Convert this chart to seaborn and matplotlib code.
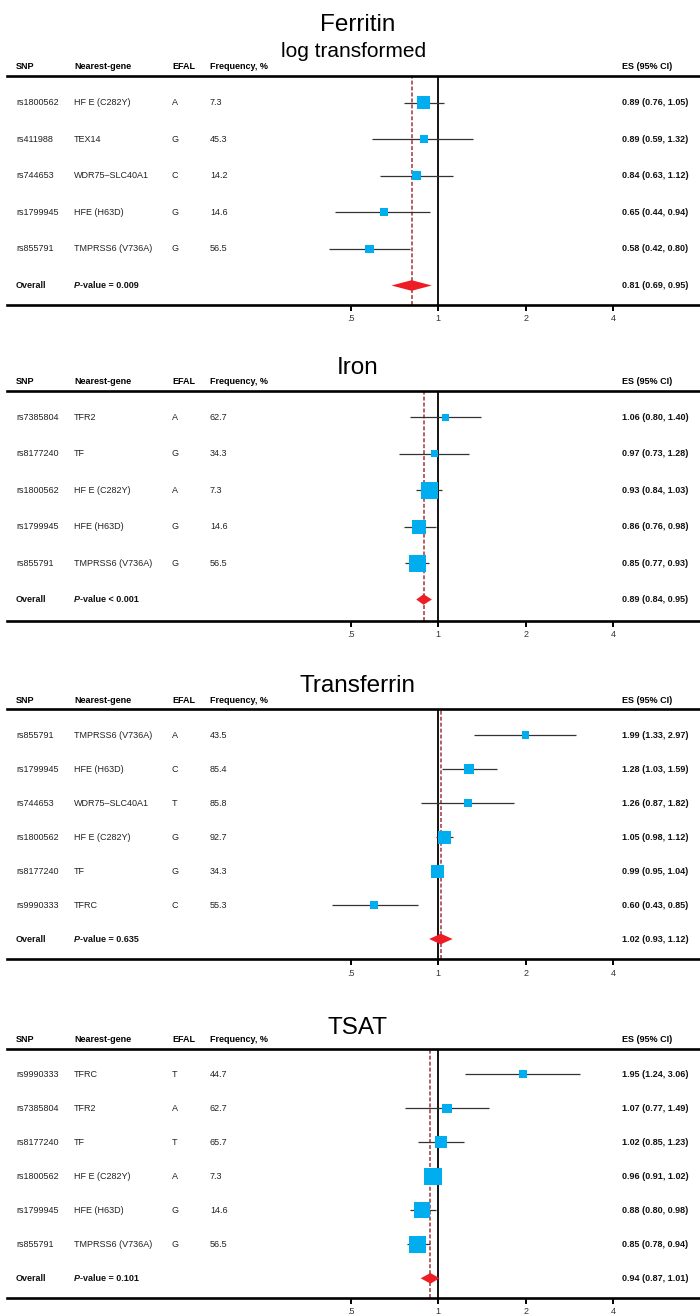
import numpy as np
import matplotlib
matplotlib.use("Agg")
import matplotlib.pyplot as plt
import seaborn as sns
from matplotlib.transforms import blended_transform_factory

# ---------------- data ----------------
ferritin_snp = ["rs1800562", "rs411988", "rs744653", "rs1799945", "rs855791"]
ferritin_gene = ["HF E (C282Y)", "TEX14", "WDR75\u2013SLC40A1", "HFE (H63D)", "TMPRSS6 (V736A)"]
ferritin_efal = ["A", "G", "C", "G", "G"]
ferritin_freq = ["7.3", "45.3", "14.2", "14.6", "56.5"]
ferritin_es = [0.89, 0.89, 0.84, 0.65, 0.58]
ferritin_lo = [0.76, 0.59, 0.63, 0.44, 0.42]
ferritin_hi = [1.05, 1.32, 1.12, 0.94, 0.80]
ferritin_weight = [13.0, 8.0, 9.5, 8.0, 8.5]
ferritin_overall = (0.81, 0.69, 0.95)
ferritin_p = "= 0.009"

iron_snp = ["rs7385804", "rs8177240", "rs1800562", "rs1799945", "rs855791"]
iron_gene = ["TFR2", "TF", "HF E (C282Y)", "HFE (H63D)", "TMPRSS6 (V736A)"]
iron_efal = ["A", "G", "A", "G", "G"]
iron_freq = ["62.7", "34.3", "7.3", "14.6", "56.5"]
iron_es = [1.06, 0.97, 0.93, 0.86, 0.85]
iron_lo = [0.80, 0.73, 0.84, 0.76, 0.77]
iron_hi = [1.40, 1.28, 1.03, 0.98, 0.93]
iron_weight = [7.0, 7.0, 17.0, 14.0, 17.0]
iron_overall = (0.89, 0.84, 0.95)
iron_p = "< 0.001"

transferrin_snp = ["rs855791", "rs1799945", "rs744653", "rs1800562", "rs8177240", "rs9990333"]
transferrin_gene = ["TMPRSS6 (V736A)", "HFE (H63D)", "WDR75\u2013SLC40A1", "HF E (C282Y)", "TF", "TFRC"]
transferrin_efal = ["A", "C", "T", "G", "G", "C"]
transferrin_freq = ["43.5", "85.4", "85.8", "92.7", "34.3", "55.3"]
transferrin_es = [1.99, 1.28, 1.26, 1.05, 0.99, 0.60]
transferrin_lo = [1.33, 1.03, 0.87, 0.98, 0.95, 0.43]
transferrin_hi = [2.97, 1.59, 1.82, 1.12, 1.04, 0.85]
transferrin_weight = [7.3, 10.0, 8.0, 13.0, 13.0, 8.0]
transferrin_overall = (1.02, 0.93, 1.12)
transferrin_p = "= 0.635"

tsat_snp = ["rs9990333", "rs7385804", "rs8177240", "rs1800562", "rs1799945", "rs855791"]
tsat_gene = ["TFRC", "TFR2", "TF", "HF E (C282Y)", "HFE (H63D)", "TMPRSS6 (V736A)"]
tsat_efal = ["T", "A", "T", "A", "G", "G"]
tsat_freq = ["44.7", "62.7", "65.7", "7.3", "14.6", "56.5"]
tsat_es = [1.95, 1.07, 1.02, 0.96, 0.88, 0.85]
tsat_lo = [1.24, 0.77, 0.85, 0.91, 0.80, 0.78]
tsat_hi = [3.06, 1.49, 1.23, 1.02, 0.98, 0.94]
tsat_weight = [7.7, 9.3, 12.3, 17.3, 15.7, 17.0]
tsat_overall = (0.94, 0.87, 1.01)
tsat_p = "= 0.101"

header_labels = ["SNP", "Nearest-gene", "EFAL", "Frequency, %"]
es_header = "ES (95% CI)"
tick_values = [0.5, 1, 2, 4]
tick_labels = [".5", "1", "2", "4"]

# ---------------- style ----------------
sns.set_theme(style="white")
plt.rcParams['font.family'] = ['Liberation Sans', 'DejaVu Sans']

W, H = 700, 1316
fig = plt.figure(figsize=(W / 100, H / 100), dpi=100)

X0_PX, X1_PX = 7, 700
ONE_PX, OCT_PX = 438.3, 87.6


def px2val(px):
    return 2 ** ((px - ONE_PX) / OCT_PX)


COL_X = [16, 74, 172, 210]
ES_X = 622
FS = 6.5
SQ = "#00AEEF"
DIA = "#EE1C25"
DASH = "#A0363C"
CI_C = "#333333"

panels = [
    dict(title="Ferritin", subtitle="log transformed", title_base=30.7, sub_base=56.7,
         top=75.5, bottom=304.5, row0=102.5, step=36.6,
         snp=ferritin_snp, gene=ferritin_gene, efal=ferritin_efal, freq=ferritin_freq,
         es=ferritin_es, lo=ferritin_lo, hi=ferritin_hi, w=ferritin_weight,
         ov=ferritin_overall, p=ferritin_p),
    dict(title="Iron", subtitle=None, title_base=374.0,
         top=390.5, bottom=621.0, row0=417.0, step=36.5,
         snp=iron_snp, gene=iron_gene, efal=iron_efal, freq=iron_freq,
         es=iron_es, lo=iron_lo, hi=iron_hi, w=iron_weight,
         ov=iron_overall, p=iron_p),
    dict(title="Transferrin", subtitle=None, title_base=691.7,
         top=709.3, bottom=959.3, row0=735.0, step=34.0,
         snp=transferrin_snp, gene=transferrin_gene, efal=transferrin_efal, freq=transferrin_freq,
         es=transferrin_es, lo=transferrin_lo, hi=transferrin_hi, w=transferrin_weight,
         ov=transferrin_overall, p=transferrin_p),
    dict(title="TSAT", subtitle=None, title_base=1034.0,
         top=1049.0, bottom=1297.5, row0=1074.3, step=34.0,
         snp=tsat_snp, gene=tsat_gene, efal=tsat_efal, freq=tsat_freq,
         es=tsat_es, lo=tsat_lo, hi=tsat_hi, w=tsat_weight,
         ov=tsat_overall, p=tsat_p),
]

for P in panels:
    left = X0_PX / W
    width = (X1_PX - X0_PX) / W
    bottom = 1 - P["bottom"] / H
    height = (P["bottom"] - P["top"]) / H
    ax = fig.add_axes([left, bottom, width, height])
    ax.set_xscale("log", base=2)
    ax.set_xlim(px2val(X0_PX), px2val(X1_PX))
    y_top = (P["top"] - P["row0"]) / P["step"]
    y_bot = (P["bottom"] - P["row0"]) / P["step"]
    ax.set_ylim(y_bot, y_top)

    n = len(P["es"])
    rows = np.arange(n)
    ov_row = n

    # reference lines
    ax.axvline(P["ov"][0], color=DASH, lw=1.1, ls=(0, (2.6, 1.3)), zorder=1)
    ax.axvline(1, color="black", lw=1.3, zorder=2)

    # CIs
    ax.hlines(rows, P["lo"], P["hi"], color=CI_C, lw=0.9, zorder=3)
    # squares
    sizes = (np.array(P["w"]) * 0.72) ** 2
    sns.scatterplot(x=P["es"], y=rows, marker="s", s=sizes, color=SQ,
                    linewidth=0, edgecolor="none", ax=ax, legend=False, zorder=4)
    # diamond
    es0, lo0, hi0 = P["ov"]
    hh = 5.3 / P["step"]
    ax.fill([lo0, es0, hi0, es0], [ov_row, ov_row - hh, ov_row, ov_row + hh],
            color=DIA, lw=0, zorder=4)

    # axes styling
    for s in ["left", "right"]:
        ax.spines[s].set_visible(False)
    for s in ["top", "bottom"]:
        ax.spines[s].set_color("black")
        ax.spines[s].set_linewidth(1.9)
    ax.set_yticks([])
    ax.set_xticks(tick_values)
    ax.set_xticklabels(tick_labels)
    ax.minorticks_off()
    ax.tick_params(axis="x", which="major", direction="out", length=4.3, width=1.4,
                   labelsize=FS, pad=2.5, colors="black", bottom=True)
    ax.tick_params(axis="x", labelcolor="#333333")
    ax.grid(False)

    tr = blended_transform_factory(fig.transFigure, ax.transData)

    # row text
    for i in range(n):
        vals = [P["snp"][i], P["gene"][i], P["efal"][i], P["freq"][i]]
        for cx, v in zip(COL_X, vals):
            ax.text(cx / W, i, v, transform=tr, fontsize=FS, va="center", ha="left",
                    color="#222222")
        ax.text(ES_X / W, i, f"{P['es'][i]:.2f} ({P['lo'][i]:.2f}, {P['hi'][i]:.2f})",
                transform=tr, fontsize=FS, fontweight="bold", va="center", ha="left",
                color="#111111")
    # overall row
    ax.text(COL_X[0] / W, ov_row, "Overall", transform=tr, fontsize=FS,
            fontweight="bold", va="center", ha="left", color="#111111")
    t1 = ax.text(COL_X[1] / W, ov_row, "P", transform=tr, fontsize=FS,
                 fontweight="bold", fontstyle="italic", va="center", ha="left",
                 color="#111111")
    ax.annotate("-value " + P["p"], xy=(1, 0), xycoords=t1, fontsize=FS,
                fontweight="bold", va="bottom", ha="left", color="#111111")
    ax.text(ES_X / W, ov_row, f"{es0:.2f} ({lo0:.2f}, {hi0:.2f})", transform=tr,
            fontsize=FS, fontweight="bold", va="center", ha="left", color="#111111")

    # header
    hb = 1 - (P["top"] - 6.5) / H
    for cx, lab in zip(COL_X, header_labels):
        fig.text(cx / W, hb, lab, fontsize=FS, fontweight="bold", va="baseline",
                 ha="left", color="black")
    fig.text(ES_X / W, hb, es_header, fontsize=FS, fontweight="bold",
             va="baseline", ha="left", color="black")

    # titles
    fig.text(358 / W, 1 - P["title_base"] / H, P["title"], fontsize=17.5,
             va="baseline", ha="center", color="black")
    if P["subtitle"]:
        fig.text(354 / W, 1 - P["sub_base"] / H, P["subtitle"], fontsize=15,
                 va="baseline", ha="center", color="black")

fig.savefig("out.png", dpi=100)
